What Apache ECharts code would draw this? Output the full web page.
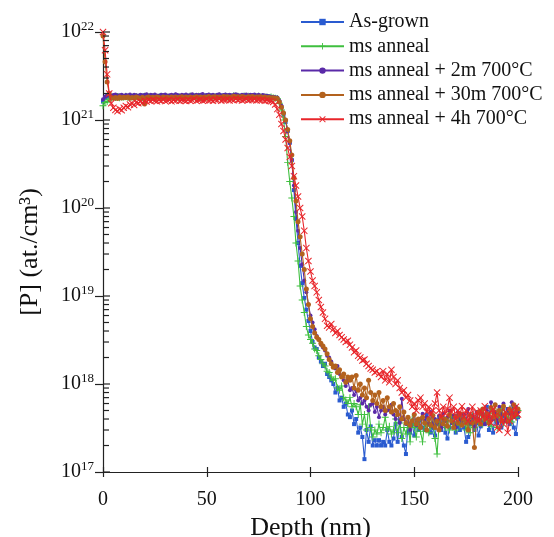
<!DOCTYPE html>
<html><head><meta charset="utf-8">
<script src="https://cdn.jsdelivr.net/npm/echarts@6/dist/echarts.min.js"></script>
<style>html,body{margin:0;padding:0;background:#fff}#c{width:554px;height:537px}</style>
</head><body><div id="c"></div><script>
// Depth (nm)
const depth = [0,1,2,3,4,5,6,7,8,9,10,11,12,13,14,15,16,17,18,19,20,21,22,23,24,25,26,27,28,29,30,31,32,33,34,35,36,37,38,39,40,41,42,43,44,45,46,47,48,49,50,51,52,53,54,55,56,57,58,59,60,61,62,63,64,65,66,67,68,69,70,71,72,73,74,75,76,77,78,79,80,81,82,83,84,85,86,87,88,89,90,91,92,93,94,95,96,97,98,99,100,101,102,103,104,105,106,107,108,109,110,111,112,113,114,115,116,117,118,119,120,121,122,123,124,125,126,127,128,129,130,131,132,133,134,135,136,137,138,139,140,141,142,143,144,145,146,147,148,149,150,151,152,153,154,155,156,157,158,159,160,161,162,163,164,165,166,167,168,169,170,171,172,173,174,175,176,177,178,179,180,181,182,183,184,185,186,187,188,189,190,191,192,193,194,195,196,197,198,199,200];

const seriesNames = ['As-grown','ms anneal','ms anneal + 2m 700°C','ms anneal + 30m 700°C','ms anneal + 4h 700°C'];

const asGrown = [
1.62e21,1.78e21,
1.86e21,1.84e21,1.88e21,1.83e21,1.86e21,1.9e21,1.85e21,1.82e21,1.87e21,1.85e21,
1.89e21,1.84e21,1.86e21,1.83e21,1.88e21,1.85e21,1.87e21,1.9e21,1.84e21,1.86e21,
1.85e21,1.88e21,1.83e21,1.87e21,1.86e21,1.84e21,1.89e21,1.85e21,1.87e21,1.83e21,
1.86e21,1.88e21,1.85e21,1.9e21,1.84e21,1.87e21,1.86e21,1.83e21,1.88e21,1.85e21,
1.87e21,1.84e21,1.89e21,1.86e21,1.85e21,1.88e21,1.84e21,1.87e21,1.9e21,1.86e21,
1.85e21,1.88e21,1.87e21,1.84e21,1.86e21,1.89e21,1.85e21,1.88e21,1.86e21,1.9e21,
1.87e21,1.85e21,1.89e21,1.86e21,1.88e21,1.84e21,1.9e21,1.87e21,1.85e21,1.88e21,
1.86e21,1.89e21,1.84e21,1.87e21,1.85e21,1.88e21,1.86e21,1.83e21,1.85e21,1.82e21,
1.8e21,1.78e21,
1.75e21,1.6e21,1.4e21,1.15e21,9.5e20,7.5e20,5.5e20,3.5e20,1.6e20,7.5e19,
4e19,2.2e19,1.4e19,9.5e18,7e18,5.2e18,4e18,3e18,2.6e18,2.5e18,
2e18,1.8e18,1.6e18,1.7e18,1.3e18,1.2e18,1.1e18,1e18,8e17,9e17,
6.5e17,7e17,5.5e17,6e17,4.5e17,4.2e17,5e17,3.5e17,4e17,2.8e17,
3.2e17,2.5e17,1.4e17,3e17,2.2e17,3.3e17,2e17,2.3e17,2e17,2.3e17,
2e17,2.2e17,2e17,3e17,2.2e17,2e17,2.4e17,3.5e17,2.2e17,3.8e17,
2.5e17,2e17,1.6e17,3.5e17,2.8e17,3.5e17,2.6e17,3.8e17,3e17,4e17,
3.2e17,3e17,4.5e17,3.5e17,2.8e17,3.2e17,2.6e17,3.5e17,4.2e17,3e17,
3.8e17,2.8e17,2.4e17,3.2e17,4e17,3.6e17,2.8e17,3.3e17,3e17,4.5e17,
3.2e17,2.2e17,2.5e17,3.5e17,4.2e17,3e17,3.6e17,2.6e17,3.3e17,4.5e17,
3.5e17,5.5e17,3e17,4e17,2.8e17,4.6e17,3.6e17,5e17,3.2e17,4.4e17,
3.8e17,5.2e17,3.5e17,4.5e17,3.2e17,2.7e17,4.2e17];

const msAnneal = [
1.45e21,1.58e21,1.62e21,1.7e21,
1.78e21,1.82e21,1.8e21,1.85e21,1.79e21,1.83e21,1.81e21,1.86e21,1.8e21,1.84e21,
1.82e21,1.79e21,1.85e21,1.81e21,1.83e21,1.8e21,1.86e21,1.82e21,1.84e21,1.79e21,
1.83e21,1.85e21,1.8e21,1.82e21,1.86e21,1.81e21,1.84e21,1.83e21,1.8e21,1.85e21,
1.82e21,1.86e21,1.81e21,1.84e21,1.8e21,1.83e21,1.85e21,1.82e21,1.87e21,1.81e21,
1.84e21,1.82e21,1.86e21,1.8e21,1.85e21,1.83e21,1.81e21,1.86e21,1.84e21,1.82e21,
1.85e21,1.81e21,1.87e21,1.83e21,1.84e21,1.86e21,1.82e21,1.85e21,1.83e21,1.88e21,
1.84e21,1.86e21,1.82e21,1.85e21,1.87e21,1.83e21,1.86e21,1.84e21,1.82e21,1.85e21,
1.83e21,1.86e21,1.82e21,1.84e21,1.81e21,1.83e21,1.8e21,1.82e21,1.79e21,1.77e21,
1.75e21,1.55e21,1.3e21,1e21,6.5e20,3.3e20,2e20,1.3e20,8e19,4e19,
2.5e19,1.3e19,9e18,6.5e18,4.5e18,3.6e18,3.2e18,2.9e18,2.5e18,2.4e18,
2.1e18,1.9e18,1.7e18,1.6e18,1.4e18,1.35e18,1.2e18,1.1e18,1.15e18,9e17,
8.5e17,9.5e17,7e17,6.6e17,6e17,7e17,5.5e17,6e17,5.5e17,4.5e17,
5.8e17,3.5e17,4.5e17,3e17,5.5e17,3.2e17,2.5e17,3e17,2.7e17,3.5e17,
2.8e17,3.2e17,4.2e17,3e17,3.3e17,2.7e17,3e17,4e17,2.8e17,3.6e17,
2.4e17,3.2e17,2.7e17,3.5e17,2.2e17,4e17,3.2e17,2.5e17,3.8e17,2.9e17,
2.2e17,3.6e17,3.5e17,2.8e17,3.3e17,3.7e17,2.4e17,1.6e17,3.6e17,3.4e17,
4e17,3.2e17,3.8e17,3e17,4.2e17,3.5e17,3e17,4.5e17,3.4e17,3.8e17,
4.2e17,3e17,3.6e17,2.8e17,4.4e17,3.2e17,4e17,3.6e17,4.8e17,3.5e17,
4.2e17,3.8e17,4.6e17,3.3e17,4.8e17,4e17,3.2e17,4.4e17,5e17,3.6e17,
4.5e17,4e17,5.2e17,3.7e17,4.8e17,4.2e17,5e17];

const anneal2m = [
1.72e21,1.85e21,
1.9e21,1.93e21,1.88e21,1.92e21,1.95e21,1.89e21,1.91e21,1.94e21,1.88e21,1.92e21,
1.9e21,1.95e21,1.89e21,1.93e21,1.91e21,1.88e21,1.94e21,1.9e21,1.92e21,1.96e21,
1.89e21,1.93e21,1.91e21,1.95e21,1.9e21,1.88e21,1.93e21,1.92e21,1.95e21,1.89e21,
1.91e21,1.94e21,1.9e21,1.96e21,1.92e21,1.89e21,1.93e21,1.91e21,1.95e21,1.9e21,
1.92e21,1.96e21,1.89e21,1.94e21,1.91e21,1.93e21,1.97e21,1.9e21,1.92e21,1.95e21,
1.91e21,1.94e21,1.89e21,1.93e21,1.96e21,1.9e21,1.92e21,1.95e21,1.91e21,1.94e21,
1.9e21,1.93e21,1.96e21,1.92e21,1.89e21,1.94e21,1.91e21,1.95e21,1.9e21,1.93e21,
1.92e21,1.95e21,1.9e21,1.93e21,1.89e21,1.92e21,1.9e21,1.88e21,1.86e21,1.84e21,
1.83e21,1.81e21,
1.8e21,1.65e21,1.45e21,1.2e21,1e21,7.5e20,5.5e20,3.5e20,1.8e20,9e19,
5.5e19,3.5e19,2.3e19,1.5e19,1.1e19,8e18,6e18,5e18,4.2e18,3.5e18,
3.2e18,2.8e18,2.6e18,2.4e18,2.1e18,2e18,1.8e18,1.6e18,1.5e18,1.6e18,
1.3e18,1.2e18,1.1e18,9.5e17,1.1e18,8.5e17,9e17,7.5e17,8.5e17,6.5e17,
7e17,6e17,6.5e17,5.5e17,5e17,5.8e17,6e17,4.8e17,5.5e17,4.2e17,
5e17,5.5e17,4.5e17,5e17,5.2e17,5.8e17,4.5e17,4e17,4.8e17,3.6e17,
6.8e17,4e17,3.5e17,4.2e17,3e17,3.8e17,4.5e17,3.4e17,4e17,3.2e17,
4.6e17,3.8e17,4.2e17,3.5e17,4.8e17,3.3e17,4e17,3.6e17,4.4e17,3.2e17,
4.6e17,3.8e17,4.2e17,5e17,3.6e17,4.4e17,3.2e17,4.8e17,4e17,3.4e17,
4.5e17,3.8e17,5.2e17,3.6e17,4.4e17,3.3e17,4.8e17,4e17,3.8e17,4.6e17,
3.5e17,5e17,4.2e17,6.2e17,4e17,4.8e17,3.6e17,5.5e17,4.4e17,6e17,
3.8e17,5.2e17,4.6e17,6.2e17,4.2e17,5.5e17,4.8e17];

const anneal30m = [
9e21,4.6e21,2.7e21,2e21,1.8e21,
1.77e21,1.8e21,1.76e21,1.82e21,1.78e21,1.81e21,1.79e21,1.83e21,1.77e21,1.8e21,
1.78e21,1.82e21,1.79e21,1.76e21,1.81e21,1.52e21,1.8e21,1.83e21,1.78e21,1.81e21,
1.79e21,1.82e21,1.8e21,1.77e21,1.83e21,1.79e21,1.81e21,1.78e21,1.82e21,1.8e21,
1.83e21,1.79e21,1.81e21,1.84e21,1.78e21,1.82e21,1.8e21,1.83e21,1.79e21,1.81e21,
1.84e21,1.8e21,1.82e21,1.79e21,1.83e21,1.81e21,1.85e21,1.8e21,1.82e21,1.84e21,
1.81e21,1.83e21,1.8e21,1.85e21,1.82e21,1.84e21,1.81e21,1.83e21,1.86e21,1.82e21,
1.84e21,1.81e21,1.85e21,1.83e21,1.8e21,1.84e21,1.82e21,1.85e21,1.81e21,1.83e21,
1.82e21,1.84e21,1.8e21,1.82e21,1.79e21,1.8e21,1.78e21,1.79e21,1.77e21,
1.75e21,1.6e21,1.4e21,1.2e21,1e21,7.8e20,5.8e20,4e20,2.2e20,1.2e20,
7e19,4.7e19,3e19,2e19,1.2e19,8e18,5.5e18,4.5e18,3.8e18,3.4e18,
3.2e18,2.9e18,2.7e18,2.5e18,2.2e18,1.9e18,1.7e18,1.55e18,1.6e18,1.35e18,
1.45e18,1.2e18,1.3e18,1.05e18,1.2e18,1.1e18,1.2e18,9e17,1.25e18,8.5e17,
1e18,7.5e17,9e17,7e17,1.1e18,8e17,6.5e17,7.5e17,6e17,8e17,
5.5e17,6.5e17,5e17,7e17,5.5e17,4.8e17,6e17,5e17,4.5e17,5.5e17,
4e17,4.8e17,3.6e17,4.2e17,3.4e17,3.8e17,4.5e17,3.5e17,4e17,3.2e17,
4.2e17,3.6e17,3e17,4e17,3.4e17,4.4e17,3.2e17,3.8e17,3e17,4.2e17,
3.5e17,4e17,3.3e17,4.5e17,3.8e17,3.2e17,4.2e17,3.6e17,4.6e17,3.4e17,
4e17,3.6e17,3e17,4.4e17,3.6e17,1.9e17,3.8e17,4.8e17,3.5e17,5.2e17,
4e17,4.6e17,3.6e17,5.4e17,4.2e17,5.8e17,4.4e17,5e17,3.8e17,5.6e17,
4.6e17,3.8e17,5.2e17,4.2e17,5.8e17,4.5e17,5.2e17];

const anneal4h = [
1e22,6.2e21,3.3e21,2e21,1.55e21,1.38e21,1.3e21,1.26e21,1.33e21,1.29e21,
1.38e21,1.44e21,1.4e21,1.5e21,1.54e21,1.48e21,1.58e21,1.55e21,1.62e21,1.57e21,
1.65e21,
1.62e21,1.68e21,1.64e21,1.7e21,1.66e21,1.63e21,1.69e21,1.65e21,1.71e21,1.64e21,
1.67e21,1.7e21,1.63e21,1.68e21,1.66e21,1.72e21,1.65e21,1.69e21,1.67e21,1.64e21,
1.7e21,1.66e21,1.68e21,1.73e21,1.65e21,1.69e21,1.71e21,1.66e21,1.68e21,1.72e21,
1.67e21,1.7e21,1.65e21,1.71e21,1.68e21,1.73e21,1.66e21,1.7e21,1.69e21,1.72e21,
1.67e21,1.71e21,1.68e21,1.74e21,1.69e21,1.72e21,1.67e21,1.7e21,1.73e21,1.68e21,
1.71e21,1.69e21,1.72e21,1.67e21,1.7e21,1.68e21,1.71e21,1.66e21,1.68e21,1.65e21,
1.63e21,
1.6e21,1.5e21,
1.33e21,1.15e21,9e20,7.5e20,6e20,4.8e20,3.8e20,3e20,2.3e20,1.8e20,
1.35e20,1e20,8e19,5.5e19,3.5e19,2.5e19,1.9e19,1.5e19,1.3e19,1.1e19,
9e18,7.5e18,6.5e18,5.5e18,4.6e18,4.4e18,4.8e18,4.2e18,3.8e18,4e18,
3.6e18,3.4e18,3.2e18,3e18,3.1e18,2.8e18,2.6e18,2.3e18,2.4e18,2.1e18,
2e18,1.85e18,1.9e18,1.7e18,1.6e18,1.5e18,1.45e18,1.35e18,1.4e18,1.3e18,
1.2e18,1.4e18,1.1e18,1.3e18,1.05e18,1.45e18,1.2e18,1e18,1.1e18,9e17,
8e17,8.5e17,7e17,7.5e17,6.5e17,5.5e17,6e17,5e17,6.5e17,7e17,
5.5e17,6e17,4.8e17,5.5e17,4.5e17,5e17,6e17,8e17,5e17,4.2e17,
5.5e17,4.6e17,5.2e17,7e17,4.8e17,5.5e17,4e17,5e17,4.4e17,5.6e17,
4.2e17,5e17,3.8e17,4.6e17,5.5e17,4e17,4.8e17,3.8e17,5e17,4.2e17,
5.6e17,4e17,4.6e17,3.6e17,5.2e17,4.4e17,3.2e17,3e17,4.2e17,3.5e17,
4.8e17,2.8e17,3.8e17,5e17,4.2e17,5.5e17,4.5e17];

// Axis ticks
const xTicks = [0, 50, 100, 150, 200];
const yDecades = [1e17, 1e18, 1e19, 1e20, 1e21, 1e22];
const minorMantissas = [2,3,4,5,6,7,8,9];
const yMinorTicks = [];
yDecades.slice(0, -1).forEach(d => minorMantissas.forEach(m => yMinorTicks.push(m * d)));

const colors = ['#2a5bd0', '#3fbf3f', '#5a2aa8', '#b3621e', '#e8252a'];
const FONT = 'Liberation Serif';
const plusPath = 'path://M4.3,0H5.7V4.3H10V5.7H5.7V10H4.3V5.7H0V4.3H4.3Z';
const crossPath = 'path://M1,0L5,4L9,0L10,1L6,5L10,9L9,10L5,6L1,10L0,9L4,5L0,1Z';
const symbols = ['rect', plusPath, 'circle', 'circle', crossPath];
const symbolSizes = [4, 7, 4, 5, 7];
const allData = [asGrown, msAnneal, anneal2m, anneal30m, anneal4h];

const lineSeries = allData.map((arr, k) => ({
  name: seriesNames[k],
  type: 'line',
  xAxisIndex: 0, yAxisIndex: 0,
  data: depth.map((d, i) => [d, arr[i]]),
  symbol: symbols[k],
  symbolSize: symbolSizes[k],
  showAllSymbol: true,
  lineStyle: { color: colors[k], width: 1.1 },
  itemStyle: { color: colors[k], borderWidth: 0 },
  emphasis: { disabled: true },
  z: 2 + k
}));

const tickSeries = {
  type: 'custom',
  xAxisIndex: 0, yAxisIndex: 0,
  silent: true,
  clip: false,
  z: 10,
  data: yMinorTicks.map(v => [0, v, 6]).concat(yDecades.map(v => [0, v, 7])),
  renderItem: (params, api) => {
    const p = api.coord([api.value(0), api.value(1)]);
    const len = api.value(2);
    return { type: 'line', shape: { x1: p[0], y1: p[1], x2: p[0] + len, y2: p[1] },
             style: { stroke: '#222', lineWidth: 1.2 } };
  }
};

const chart = echarts.init(document.getElementById('c'), null, { renderer: 'canvas' });
chart.setOption({
  animation: false,
  backgroundColor: '#fff',
  grid: { left: 103, right: 36, top: 32, bottom: 65, containLabel: false, outerBoundsMode: 'none' },
  legend: {
    data: seriesNames,
    orient: 'vertical',
    left: 300, top: 12, padding: 0,
    itemWidth: 43, itemHeight: 8, itemGap: 4.3,
    textStyle: { fontFamily: FONT, fontSize: 20, color: '#111' },
    selectedMode: false
  },
  xAxis: [{
    type: 'value', min: 0, max: 200, interval: 50,
    position: 'bottom',
    axisLine: { show: true, lineStyle: { color: '#222', width: 1.2 } },
    axisTick: { show: true, inside: false, length: 5, lineStyle: { color: '#222', width: 1.2 } },
    axisLabel: { margin: 18, fontFamily: FONT, fontSize: 20, color: '#111', customValues: xTicks },
    splitLine: { show: false },
    name: 'Depth (nm)', nameLocation: 'middle', nameGap: 33,
    nameTextStyle: { fontFamily: FONT, fontSize: 26, color: '#111' }
  }, {
    type: 'value', min: 0, max: 200, interval: 50,
    position: 'bottom',
    axisLine: { show: false },
    axisTick: { show: true, inside: true, length: 5, lineStyle: { color: '#222', width: 1.2 } },
    axisLabel: { show: false },
    splitLine: { show: false }
  }],
  yAxis: [{
    type: 'log', logBase: 10, min: 1e17, max: 1e22,
    position: 'left',
    axisLine: { show: true, lineStyle: { color: '#222', width: 1.2 } },
    axisTick: { show: true, inside: false, length: 8, lineStyle: { color: '#222', width: 1.2 } },
    minorTick: { show: false },
    splitLine: { show: false },
    axisLabel: {
      margin: 9,
      formatter: v => '{b|10}{s|' + Math.round(Math.log10(v)) + '}',
      rich: {
        b: { fontFamily: FONT, fontSize: 20, color: '#111', lineHeight: 24 },
        s: { fontFamily: FONT, fontSize: 13, color: '#111', verticalAlign: 'top', lineHeight: 24 }
      }
    },
    name: '[P] (at./cm³)', nameLocation: 'middle', nameGap: 60, nameRotate: 90,
    nameTextStyle: { fontFamily: FONT, fontSize: 26, color: '#111' }
  }],
  series: lineSeries.concat([tickSeries])
});
</script></body></html>
